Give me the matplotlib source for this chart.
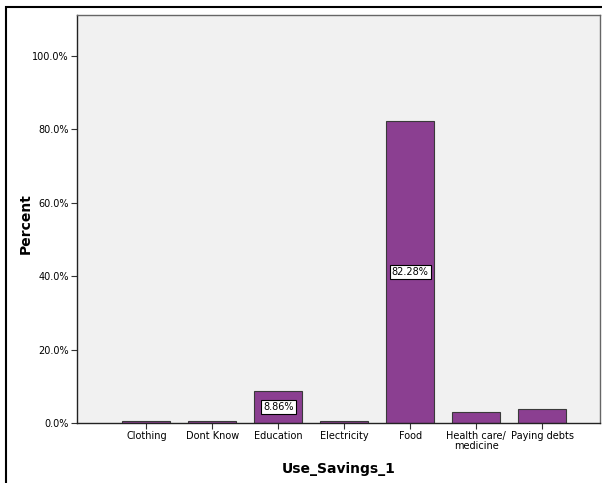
import matplotlib
matplotlib.use('Agg')
import matplotlib.pyplot as plt
from matplotlib.patches import Rectangle

categories = ['Clothing', 'Dont Know', 'Education', 'Electricity', 'Food',
              'Health care/\nmedicine', 'Paying debts']
percents = [0.63, 0.63, 8.86, 0.63, 82.28, 3.16, 3.80]
labelled = ['Education', 'Food']
yticks = [0, 20, 40, 60, 80, 100]

fig = plt.figure(figsize=(6.02, 4.83), dpi=100)
ax = fig.add_axes([0.128, 0.124, 0.869, 0.845])

# outer frame like the SPSS output window
fig.patches.append(Rectangle((6 / 602, -0.05), 1.0, 1.05 - 7 / 483, transform=fig.transFigure,
                             fill=False, edgecolor='black', linewidth=1.5))

x = list(range(len(categories)))
ax.bar(x, percents, width=0.73, color='#8b3f91', edgecolor='#3a3a3a', linewidth=0.8, zorder=2)

for i, (cat, val) in enumerate(zip(categories, percents)):
    if cat in labelled:
        ax.text(i, val / 2, f'{val:.2f}%', ha='center', va='center', fontsize=7,
                bbox=dict(facecolor='white', edgecolor='black', linewidth=0.8, pad=1.5), zorder=3)

ax.set_facecolor('#f1f1f1')
ax.set_xlim(-1.05, 6.88)
ax.set_ylim(0, 111.2)
ax.set_yticks(yticks)
ax.set_yticklabels([f'{v:.1f}%' for v in yticks], fontsize=7)
ax.set_xticks(x)
ax.set_xticklabels(categories, fontsize=7, linespacing=0.9)
ax.tick_params(axis='both', length=4, width=0.8, color='#333333', pad=2)

for s in ax.spines.values():
    s.set_color('#666666')
    s.set_linewidth(1)
ax.spines['bottom'].set_color('#222222')
ax.spines['left'].set_color('#222222')

ax.set_ylabel('Percent', fontsize=10, fontweight='bold', labelpad=14)
ax.set_xlabel('Use_Savings_1', fontsize=10, fontweight='bold', labelpad=8)
ax.yaxis.set_label_coords(-0.085, 0.49)

plt.savefig('out.png', dpi=100)
